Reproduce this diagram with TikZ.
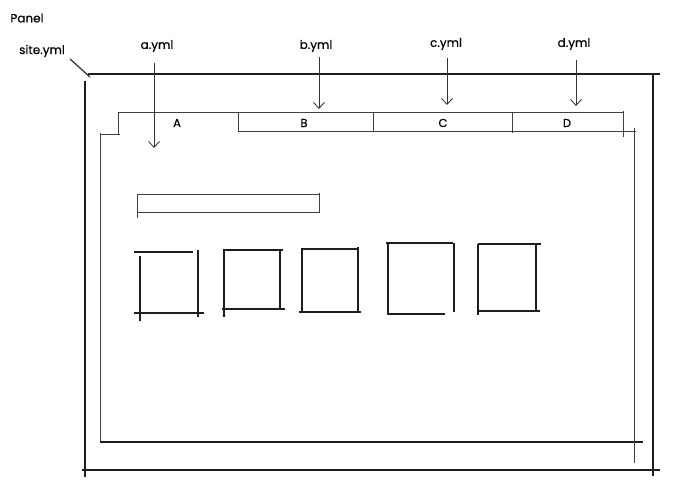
\documentclass[tikz,border=0pt]{standalone}
\usepackage{fontspec}
\setmainfont{Poppins}
\newfontfamily\lblfont{Poppins}[FakeBold=0.4]
\usetikzlibrary{arrows.meta}
\begin{document}
\begin{tikzpicture}[x=1pt,y=-1pt,
  ln/.style={draw=black!88,line width=1.1pt},
  lt/.style={draw=black!75,line width=0.85pt},
  arr/.style={draw=black!80,line width=0.85pt,-{Straight Barb[length=6pt,width=11pt]}},
  lbl/.style={font=\lblfont\fontsize{12}{14}\selectfont,inner sep=1pt},
  tab/.style={font=\lblfont\fontsize{11.5}{13}\selectfont,inner sep=1pt}]
\useasboundingbox (0,0) rectangle (682,500);
% labels
\node[lbl] (panel) at (27,18) {Panel};
\node[lbl] (site) at (42,51) {site.yml};
\node[lbl] (ay) at (157,46) {a.yml};
\node[lbl] (by) at (316,46) {b.yml};
\node[lbl] (cy) at (446,44) {c.yml};
\node[lbl] (dy) at (574,44) {d.yml};
% site pointer
\coordinate (s1) at (70,59);
\coordinate (s2) at (90,77);
\draw[ln] (s1) -- (s2);
% outer frame
\draw[ln] (88,74) -- (660,74);
\draw[ln] (85,81) -- (85,477);
\draw[ln] (653,73) -- (653,476);
\draw[ln] (82,470) -- (660,470);
% inner frame
\draw[lt] (100,133) -- (100,442);
\draw[lt] (100,134) -- (120,134);
\draw[ln] (100,442) -- (643,442);
\draw[lt] (634,128) -- (634,463);
\draw[lt] (623,131) -- (636,131);
% tab bar
\draw[lt] (118,112) -- (623,112);
\draw[lt] (238,131) -- (623,131);
\draw[lt] (118,112) -- (118,135);
\draw[lt] (238,113) -- (238,132);
\draw[lt] (373,112) -- (373,131);
\draw[lt] (512,112) -- (512,133);
\draw[lt] (623,111) -- (623,137);
\node[tab] (tA) at (177,123) {A};
\node[tab] (tB) at (304,123) {B};
\node[tab] (tC) at (443,123) {C};
\node[tab] (tD) at (567,123) {D};
% arrows
\coordinate (a1) at (154,63); \coordinate (a2) at (154,148);
\coordinate (b1) at (319,57); \coordinate (b2) at (319,109);
\coordinate (c1) at (447,58); \coordinate (c2) at (447,105);
\coordinate (d1) at (576,60); \coordinate (d2) at (576,106);
\draw[arr] (a1) -- (a2);
\draw[arr] (b1) -- (b2);
\draw[arr] (c1) -- (c2);
\draw[arr] (d1) -- (d2);
% search bar
\draw[lt] (137,194) -- (319,194);
\draw[lt] (138,212) -- (320,212);
\draw[lt] (137,194) -- (137,218);
\draw[lt] (319,193) -- (319,212);
% squares
\draw[ln] (134,252) -- (193,252);
\draw[ln] (140,256) -- (140,321);
\draw[ln] (198,250) -- (198,317);
\draw[ln] (134,313) -- (204,313);
%
\draw[ln] (223,250) -- (283,250);
\draw[ln] (224,250) -- (224,317);
\draw[ln] (280,249) -- (280,308);
\draw[ln] (222,309) -- (285,309);
%
\draw[ln] (301,249) -- (359,249);
\draw[ln] (302,249) -- (302,313);
\draw[ln] (358,247) -- (358,312);
\draw[ln] (299,312) -- (361,312);
%
\draw[ln] (386,243) -- (453,243);
\draw[ln] (388,243) -- (388,314);
\draw[ln] (454,243) -- (454,312);
\draw[ln] (387,314) -- (445,314);
%
\draw[ln] (478,244) -- (541,244);
\draw[ln] (478,244) -- (478,315);
\draw[ln] (536,243) -- (536,312);
\draw[ln] (477,311) -- (540,311);
\end{tikzpicture}
\end{document}
